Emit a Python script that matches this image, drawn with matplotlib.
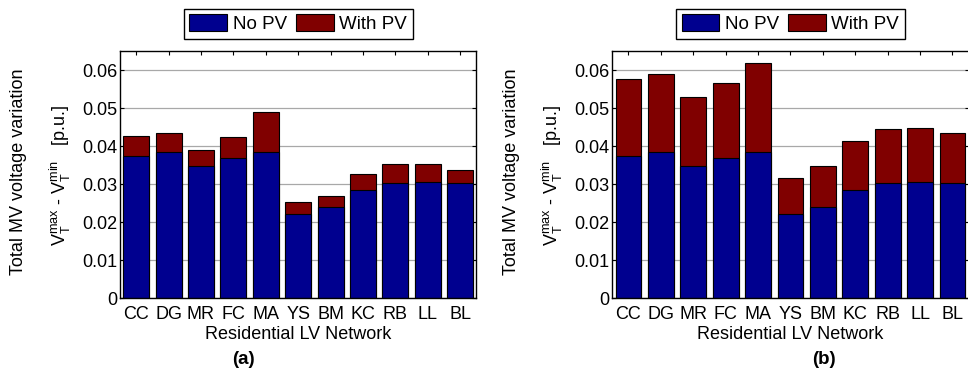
import numpy as np
import matplotlib
matplotlib.use("Agg")
import matplotlib.pyplot as plt

plt.rcParams['font.family'] = ['Liberation Sans', 'DejaVu Sans']
plt.rcParams['mathtext.fontset'] = 'custom'
plt.rcParams['mathtext.rm'] = 'Liberation Sans'
plt.rcParams['mathtext.it'] = 'Liberation Sans'

# redes BT residenciales
redes = ['CC', 'DG', 'MR', 'FC', 'MA', 'YS', 'BM', 'KC', 'RB', 'LL', 'BL']

# variacion total de tension MT sin PV (igual en ambos casos)
sin_pv = [0.0375, 0.0384, 0.0349, 0.0368, 0.0386, 0.0222, 0.0239, 0.0284, 0.0304, 0.0306, 0.0304]

# variacion total con PV, caso (a) y caso (b)
con_pv_a = [0.0427, 0.0436, 0.0389, 0.0425, 0.0489, 0.0252, 0.0268, 0.0327, 0.0352, 0.0354, 0.0337]
con_pv_b = [0.0576, 0.0590, 0.0529, 0.0566, 0.0619, 0.0316, 0.0349, 0.0413, 0.0446, 0.0449, 0.0434]

azul = '#00008F'
rojo = '#800000'

fig = plt.figure(figsize=(9.68, 3.71), dpi=100)
ax_a = fig.add_axes([120 / 968, 0.196, 356.4 / 968, 0.666])
ax_b = fig.add_axes([612.3 / 968, 0.196, 356.4 / 968, 0.666])

x = np.arange(1, len(redes) + 1)

for ax, con_pv, letra, xl in [(ax_a, con_pv_a, '(a)', 243), (ax_b, con_pv_b, '(b)', 824)]:
    b_rojo = ax.bar(x, con_pv, width=0.8, color=rojo, edgecolor='black', linewidth=0.8)
    b_azul = ax.bar(x, sin_pv, width=0.8, color=azul, edgecolor='black', linewidth=0.8)

    ax.set_xlim(0.5, 11.5)
    ax.set_ylim(0, 0.065)
    ax.set_xticks(x)
    ax.set_xticklabels(redes, fontsize=13)
    ax.set_yticks([0, 0.01, 0.02, 0.03, 0.04, 0.05, 0.06])
    ax.set_yticklabels(['0', '0.01', '0.02', '0.03', '0.04', '0.05', '0.06'], fontsize=13)
    ax.tick_params(axis='x', direction='in', length=3, top=True, pad=5.5)
    ax.tick_params(axis='y', direction='in', length=3, right=True, pad=2)
    ax.set_axisbelow(True)
    ax.grid(axis='y', color='#a8a8a8', linewidth=0.9)
    for s in ax.spines.values():
        s.set_linewidth(1.0)

    ax.set_xlabel('Residential LV Network', fontsize=13, labelpad=2)

    leg = ax.legend([b_azul, b_rojo], ['No PV', 'With PV'], ncol=2, loc='lower center',
                    bbox_to_anchor=(0.5, 1.05), borderaxespad=0, fontsize=13.5,
                    fancybox=False, edgecolor='black', framealpha=1,
                    handlelength=2.0, handleheight=1.0, handletextpad=0.3,
                    columnspacing=0.5, borderpad=0.3)
    leg.get_frame().set_linewidth(1.0)

    fig.text(xl / 968, 1 - 360 / 371, letra, fontsize=13.5, fontweight='bold',
             ha='center', va='center')

# etiquetas del eje y (dos lineas)
for x0 in [0, 492]:
    fig.text((x0 + 19) / 968, 1 - 172 / 371, 'Total MV voltage variation', rotation=90,
             fontsize=13, ha='center', va='center')
    fig.text((x0 + 60) / 968, 1 - 175 / 371,
             r'$\mathregular{V_T^{max}}$ - $\mathregular{V_T^{min}}$   [p.u.]', rotation=90,
             fontsize=13, ha='center', va='center')

plt.savefig('out.png', dpi=100)
